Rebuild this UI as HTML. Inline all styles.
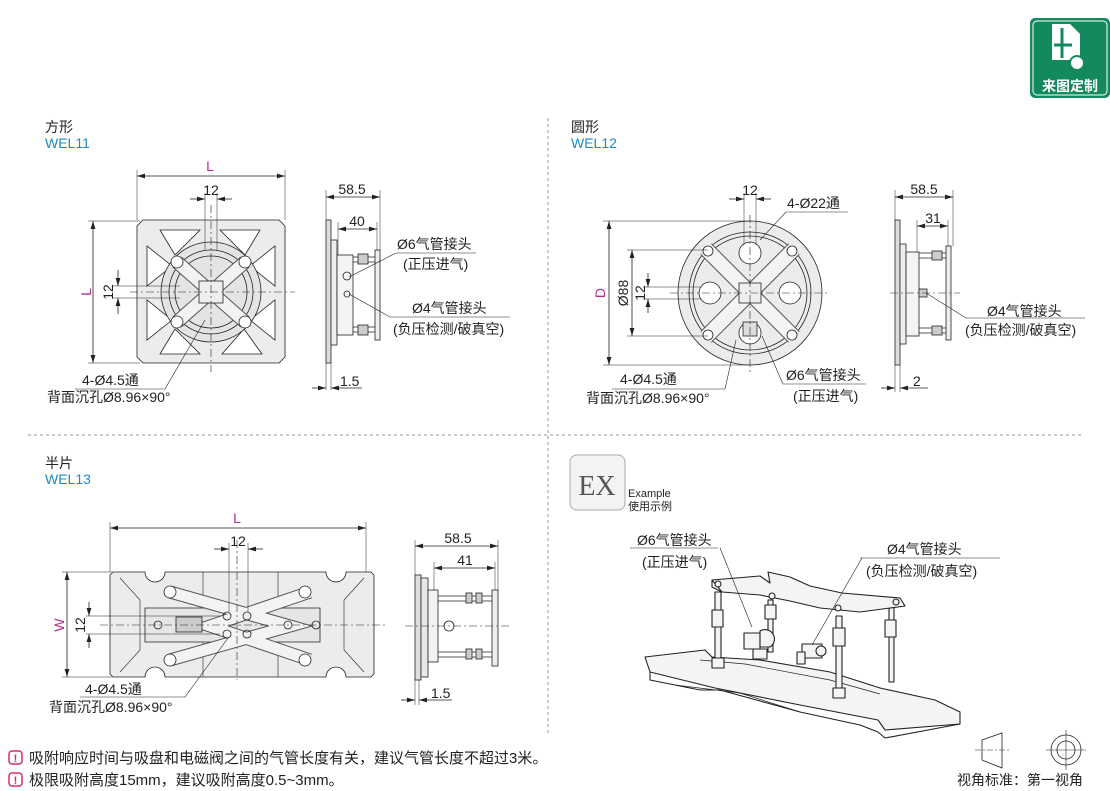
<!DOCTYPE html>
<html><head><meta charset="utf-8"><style>
html,body{margin:0;padding:0;background:#fff;}
svg{display:block;}
text{font-family:"Liberation Sans","Noto Sans CJK SC",sans-serif;fill:#222;}
</style></head><body>
<svg width="1110" height="791" viewBox="0 0 1110 791" xmlns="http://www.w3.org/2000/svg">
<defs>
<marker id="a" viewBox="0 0 10 6" refX="10" refY="3" markerWidth="10" markerHeight="6" orient="auto-start-reverse"><path d="M0,0L10,3L0,6z" fill="#222"/></marker>
</defs>
<g font-size="14">
<text x="45" y="132">方形</text><text x="45" y="148" style="fill:#1a8ac6">WEL11</text>
<text x="571" y="132">圆形</text><text x="571" y="148" style="fill:#1a8ac6">WEL12</text>
<text x="45" y="468">半片</text><text x="45" y="484" style="fill:#1a8ac6">WEL13</text>
</g>
<line x1="28" y1="435" x2="1082" y2="435" stroke="#999" stroke-dasharray="3,3"/>
<line x1="548" y1="118" x2="548" y2="735" stroke="#999" stroke-dasharray="3,3"/>

<!-- logo -->
<rect x="1030" y="18" width="80" height="80" rx="5" fill="#138a5e"/>
<rect x="1033" y="21" width="74" height="74" rx="4" fill="none" stroke="#fff" stroke-width="1"/>
<path d="M1052,24h18l10,10v26h-28z" fill="#fff"/>
<path d="M1062,28v30M1054,45h18" stroke="#138a5e" stroke-width="3"/>
<circle cx="1077" cy="63" r="7" fill="#fff" stroke="#138a5e" stroke-width="2"/>
<text x="1070" y="91" font-size="14" font-weight="bold" text-anchor="middle" style="fill:#fff">来图定制</text>

<g stroke="#222" stroke-width="0.8" fill="none">
<!-- ===== Square plate ===== -->
<path d="M143,220H279L285,226V357L279,363H143L137,357V226Z" fill="#ececec"/>
<g fill="#fff">
<path d="M160,230h40l-25,25z"/><path d="M220,230h40l-15,25z"/>
<path d="M147,246v40l25-20z"/><path d="M275,246v40l-25-20z"/>
<path d="M147,300v40l25-20z"/><path d="M275,300v40l-25-20z"/>
<path d="M160,354h40l-25-25z"/><path d="M222,354h40l-18-25z"/>
</g>
<circle cx="211" cy="292" r="50" fill="#e4e4e4"/>
<circle cx="211" cy="292" r="42"/><circle cx="211" cy="292" r="36"/>
<path d="M177,262L245,322M245,262L177,322" stroke-width="14" stroke="#555"/>
<path d="M177,262L245,322M245,262L177,322" stroke-width="12" stroke="#f3f3f3"/>
<circle cx="177" cy="262" r="6" fill="#fff"/><circle cx="245" cy="262" r="6" fill="#fff"/>
<circle cx="177" cy="322" r="6" fill="#fff"/><circle cx="245" cy="322" r="6" fill="#fff"/>
<rect x="199" y="281" width="24" height="22" fill="#eee"/>
<line x1="130" y1="292" x2="295" y2="292" stroke-dasharray="8,3,2,3" stroke-width="0.6"/>
<line x1="211" y1="205" x2="211" y2="372" stroke-dasharray="8,3,2,3" stroke-width="0.6"/>
<line x1="137" y1="170" x2="137" y2="220" stroke-width="0.5"/><line x1="285" y1="170" x2="285" y2="220" stroke-width="0.5"/>
<line x1="137" y1="176" x2="285" y2="176" marker-start="url(#a)" marker-end="url(#a)"/>
<line x1="205" y1="193" x2="205" y2="250" stroke-width="0.5"/><line x1="217" y1="193" x2="217" y2="250" stroke-width="0.5"/>
<line x1="190" y1="199" x2="205" y2="199" marker-end="url(#a)"/><line x1="232" y1="199" x2="217" y2="199" marker-end="url(#a)"/>
<line x1="88" y1="221" x2="140" y2="221" stroke-width="0.5"/><line x1="88" y1="363" x2="140" y2="363" stroke-width="0.5"/>
<line x1="93" y1="221" x2="93" y2="363" marker-start="url(#a)" marker-end="url(#a)"/>
<line x1="112" y1="286" x2="180" y2="286" stroke-width="0.5"/><line x1="112" y1="298" x2="180" y2="298" stroke-width="0.5"/>
<line x1="118" y1="270" x2="118" y2="286" marker-end="url(#a)"/><line x1="118" y1="314" x2="118" y2="298" marker-end="url(#a)"/>
<path d="M75,389H165L205,320" stroke-width="0.6"/>
<!-- side square -->
<rect x="326" y="220" width="5" height="143" fill="#ddd"/>
<rect x="331" y="240" width="6" height="105" fill="#eee"/>
<rect x="337" y="255" width="16" height="80" fill="#f4f4f4"/>
<line x1="353" y1="257" x2="376" y2="257"/><line x1="353" y1="262" x2="376" y2="262"/>
<line x1="353" y1="327" x2="376" y2="327"/><line x1="353" y1="332" x2="376" y2="332"/>
<rect x="358" y="254" width="10" height="10" fill="#ccc"/><rect x="358" y="325" width="10" height="10" fill="#ccc"/>
<rect x="375" y="250" width="5" height="90" fill="#eee"/>
<circle cx="347" cy="276" r="4"/><circle cx="347" cy="294" r="3"/>
<line x1="326" y1="190" x2="326" y2="220" stroke-width="0.5"/><line x1="380" y1="190" x2="380" y2="250" stroke-width="0.5"/>
<line x1="326" y1="197" x2="380" y2="197" marker-start="url(#a)" marker-end="url(#a)"/>
<line x1="338" y1="222" x2="338" y2="255" stroke-width="0.5"/><line x1="377" y1="222" x2="377" y2="250" stroke-width="0.5"/>
<line x1="338" y1="229" x2="377" y2="229" marker-start="url(#a)" marker-end="url(#a)"/>
<line x1="326" y1="363" x2="326" y2="390" stroke-width="0.5"/><line x1="331" y1="363" x2="331" y2="390" stroke-width="0.5"/>
<line x1="312" y1="388" x2="326" y2="388" marker-end="url(#a)"/><line x1="362" y1="388" x2="331" y2="388" marker-end="url(#a)"/>
<path d="M349,277L396,253H476" stroke-width="0.6"/>
<path d="M349,294L390,317H510" stroke-width="0.6"/>

<!-- ===== Round ===== -->
<circle cx="750" cy="293" r="72" fill="#ececec"/>
<circle cx="750" cy="293" r="61"/><circle cx="750" cy="293" r="57"/>
<circle cx="750" cy="253" r="11" fill="#fff"/><circle cx="710" cy="293" r="11" fill="#fff"/>
<circle cx="790" cy="293" r="11" fill="#fff"/><circle cx="750" cy="333" r="11" fill="#fff"/>
<path d="M706,249L794,337M794,249L706,337" stroke-width="16" stroke="#555"/>
<path d="M706,249L794,337M794,249L706,337" stroke-width="14" stroke="#f3f3f3"/>
<circle cx="708" cy="251" r="5" fill="#fff"/><circle cx="792" cy="251" r="5" fill="#fff"/>
<circle cx="708" cy="335" r="5" fill="#fff"/><circle cx="792" cy="335" r="5" fill="#fff"/>
<rect x="739" y="283" width="22" height="20" fill="#eee"/>
<rect x="743" y="322" width="14" height="14" fill="#ddd"/>
<line x1="670" y1="293" x2="830" y2="293" stroke-dasharray="8,3,2,3" stroke-width="0.6"/>
<line x1="750" y1="215" x2="750" y2="372" stroke-dasharray="8,3,2,3" stroke-width="0.6"/>
<line x1="603" y1="221" x2="750" y2="221" stroke-width="0.5"/><line x1="603" y1="365" x2="750" y2="365" stroke-width="0.5"/>
<line x1="609" y1="221" x2="609" y2="365" marker-start="url(#a)" marker-end="url(#a)"/>
<line x1="627" y1="250" x2="708" y2="250" stroke-width="0.5"/><line x1="627" y1="336" x2="708" y2="336" stroke-width="0.5"/>
<line x1="632" y1="250" x2="632" y2="336" marker-start="url(#a)" marker-end="url(#a)"/>
<line x1="643" y1="287" x2="700" y2="287" stroke-width="0.5"/><line x1="643" y1="299" x2="700" y2="299" stroke-width="0.5"/>
<line x1="648" y1="273" x2="648" y2="287" marker-end="url(#a)"/><line x1="648" y1="313" x2="648" y2="299" marker-end="url(#a)"/>
<line x1="744" y1="193" x2="744" y2="245" stroke-width="0.5"/><line x1="756" y1="193" x2="756" y2="245" stroke-width="0.5"/>
<line x1="729" y1="199" x2="744" y2="199" marker-end="url(#a)"/><line x1="771" y1="199" x2="756" y2="199" marker-end="url(#a)"/>
<path d="M848,212H786L760,240" stroke-width="0.6"/>
<path d="M612,389H725L736,340" stroke-width="0.6"/>
<path d="M866,384H783L762,336" stroke-width="0.6"/>
<!-- side round -->
<rect x="895" y="220" width="5" height="145" fill="#ddd"/>
<rect x="900" y="244" width="6" height="100" fill="#eee"/>
<rect x="906" y="252" width="13" height="84" fill="#f4f4f4"/>
<line x1="919" y1="253" x2="948" y2="253"/><line x1="919" y1="258" x2="948" y2="258"/>
<line x1="919" y1="328" x2="948" y2="328"/><line x1="919" y1="333" x2="948" y2="333"/>
<rect x="932" y="251" width="10" height="9" fill="#ccc"/><rect x="932" y="326" width="10" height="9" fill="#ccc"/>
<rect x="946" y="246" width="5" height="94" fill="#eee"/>
<rect x="919" y="289" width="8" height="8" fill="#ccc"/>
<line x1="890" y1="293" x2="960" y2="293" stroke-dasharray="8,3,2,3" stroke-width="0.6"/>
<line x1="895" y1="190" x2="895" y2="220" stroke-width="0.5"/><line x1="953" y1="190" x2="953" y2="246" stroke-width="0.5"/>
<line x1="895" y1="197" x2="953" y2="197" marker-start="url(#a)" marker-end="url(#a)"/>
<line x1="917" y1="220" x2="917" y2="252" stroke-width="0.5"/><line x1="948" y1="220" x2="948" y2="246" stroke-width="0.5"/>
<line x1="917" y1="226" x2="948" y2="226" marker-start="url(#a)" marker-end="url(#a)"/>
<line x1="895" y1="365" x2="895" y2="392" stroke-width="0.5"/><line x1="900" y1="365" x2="900" y2="392" stroke-width="0.5"/>
<line x1="881" y1="388" x2="895" y2="388" marker-end="url(#a)"/><line x1="928" y1="388" x2="900" y2="388" marker-end="url(#a)"/>
<path d="M926,293L966,318H1085" stroke-width="0.6"/>

<!-- ===== Half plate ===== -->
<path d="M113,572H145A10,10 0 0 0 165,572H326A10,10 0 0 0 346,572H371L374,575V674L371,677H346A10,10 0 0 0 326,677H165A10,10 0 0 0 145,677H113L110,674V575Z" fill="#ececec"/>
<path d="M120,578L140,600V650L120,672M364,578L344,600V650L364,672" stroke-width="0.6"/>
<path d="M203,572V677M278,572V677" stroke-width="0.6"/>
<path d="M145,608H320V642H145Z" fill="#e6e6e6"/>
<path d="M170,592L290,626L170,660M310,592L210,626L310,660" stroke-width="13" stroke="#555"/>
<path d="M170,592L290,626L170,660M310,592L210,626L310,660" stroke-width="11" stroke="#f3f3f3"/>
<circle cx="170" cy="592" r="6" fill="#fff"/><circle cx="170" cy="660" r="6" fill="#fff"/>
<circle cx="305" cy="592" r="6" fill="#fff"/><circle cx="305" cy="660" r="6" fill="#fff"/>
<circle cx="227" cy="616" r="4"/><circle cx="247" cy="616" r="4"/><circle cx="227" cy="634" r="4"/><circle cx="247" cy="634" r="4"/>
<circle cx="158" cy="625" r="4"/><circle cx="288" cy="625" r="4"/><circle cx="316" cy="625" r="4"/>
<rect x="176" y="617" width="26" height="15" fill="#ccc"/>
<line x1="100" y1="625" x2="385" y2="625" stroke-dasharray="8,3,2,3" stroke-width="0.6"/>
<line x1="237" y1="540" x2="237" y2="680" stroke-dasharray="8,3,2,3" stroke-width="0.6"/>
<line x1="110" y1="522" x2="110" y2="572" stroke-width="0.5"/><line x1="366" y1="522" x2="366" y2="572" stroke-width="0.5"/>
<line x1="110" y1="528" x2="366" y2="528" marker-start="url(#a)" marker-end="url(#a)"/>
<line x1="229" y1="543" x2="229" y2="612" stroke-width="0.5"/><line x1="248" y1="543" x2="248" y2="612" stroke-width="0.5"/>
<line x1="214" y1="549" x2="229" y2="549" marker-end="url(#a)"/><line x1="263" y1="549" x2="248" y2="549" marker-end="url(#a)"/>
<line x1="62" y1="572" x2="112" y2="572" stroke-width="0.5"/><line x1="62" y1="677" x2="112" y2="677" stroke-width="0.5"/>
<line x1="67" y1="572" x2="67" y2="677" marker-start="url(#a)" marker-end="url(#a)"/>
<line x1="86" y1="616" x2="220" y2="616" stroke-width="0.5"/><line x1="86" y1="634" x2="220" y2="634" stroke-width="0.5"/>
<line x1="89" y1="602" x2="89" y2="616" marker-end="url(#a)"/><line x1="89" y1="648" x2="89" y2="634" marker-end="url(#a)"/>
<path d="M80,697H185L228,638" stroke-width="0.6"/>
<!-- side half -->
<rect x="415" y="575" width="6" height="105" fill="#ddd"/>
<rect x="421" y="578" width="7" height="99" fill="#e8e8e8"/>
<rect x="428" y="590" width="10" height="72" fill="#f2f2f2"/>
<line x1="438" y1="596" x2="495" y2="596"/><line x1="438" y1="601" x2="495" y2="601"/>
<line x1="438" y1="652" x2="495" y2="652"/><line x1="438" y1="657" x2="495" y2="657"/>
<rect x="466" y="593" width="6" height="10" fill="#ccc"/><rect x="476" y="593" width="6" height="10" fill="#ccc"/>
<rect x="466" y="649" width="6" height="10" fill="#ccc"/><rect x="476" y="649" width="6" height="10" fill="#ccc"/>
<rect x="492" y="590" width="6" height="76" fill="#eee"/>
<circle cx="449" cy="626" r="5"/>
<line x1="405" y1="626" x2="510" y2="626" stroke-dasharray="8,3,2,3" stroke-width="0.6"/>
<line x1="415" y1="540" x2="415" y2="575" stroke-width="0.5"/><line x1="498" y1="540" x2="498" y2="590" stroke-width="0.5"/>
<line x1="415" y1="546" x2="498" y2="546" marker-start="url(#a)" marker-end="url(#a)"/>
<line x1="434" y1="562" x2="434" y2="590" stroke-width="0.5"/><line x1="495" y1="562" x2="495" y2="590" stroke-width="0.5"/>
<line x1="434" y1="568" x2="495" y2="568" marker-start="url(#a)" marker-end="url(#a)"/>
<line x1="415" y1="680" x2="415" y2="705" stroke-width="0.5"/><line x1="419" y1="680" x2="419" y2="705" stroke-width="0.5"/>
<line x1="401" y1="700" x2="415" y2="700" marker-end="url(#a)"/><line x1="452" y1="700" x2="419" y2="700" marker-end="url(#a)"/>
</g>

<!-- ===== 3D example ===== -->
<g stroke="#222" stroke-width="1.1" fill="#f4f4f4" stroke-linejoin="round">
<!-- bottom plate -->
<path d="M645,657L705,650L712,657L760,660L830,672L880,688L935,700L960,712L960,724L885,730L878,720L800,705L715,688L650,672Z"/>
<path d="M650,672L650,680L700,690L720,690L800,712L860,725L878,732L885,738L960,724" fill="none"/>
<path d="M675,685L740,693L800,712" fill="none" stroke-width="0.7"/>
<path d="M700,660L745,664L830,680L880,694" fill="none" stroke-width="0.7"/>
<!-- rods -->
<path d="M715,592h6v72h-6zM768,600h5v52h-5zM836,616h6v75h-6zM889,605h5v77h-5z"/>
<rect x="712" y="610" width="11" height="17"/><rect x="765" y="605" width="11" height="14"/>
<rect x="833" y="628" width="12" height="18"/><rect x="885" y="620" width="11" height="17"/>
<rect x="712" y="658" width="12" height="10"/><rect x="833" y="688" width="12" height="10"/>
<!-- top plate -->
<path d="M712,580L760,576L770,583L768,572L790,577L810,586L842,593L900,598L905,606L860,612L820,608L790,601L760,595L722,592Z"/>
<path d="M712,580L712,587L722,592" fill="none"/>
<circle cx="718" cy="584" r="3"/><circle cx="772" cy="596" r="3"/><circle cx="838" cy="608" r="3"/><circle cx="896" cy="602" r="3"/>
<!-- fittings -->
<path d="M744,633h16v16h-16z"/><path d="M760,631a9,9 0 0 1 10,16l-10,0z"/><rect x="753" y="649" width="14" height="10"/>
<path d="M802,644h20v14h-20z"/><circle cx="821" cy="651" r="5"/><rect x="797" y="652" width="8" height="12"/>
</g>
<g stroke="#222" stroke-width="0.6" fill="none">
<path d="M630,548H718M720,548L752,627"/>
<path d="M860,558H1000M862,558L812,645"/>
<!-- view symbols -->
<path d="M982,740L1002,733V768L982,760Z" stroke-width="0.8"/>
<line x1="975" y1="750" x2="1010" y2="750" stroke-dasharray="6,2,2,2"/>
<circle cx="1066" cy="750" r="15" stroke-width="0.8"/><circle cx="1066" cy="750" r="9" stroke-width="0.8"/>
<line x1="1046" y1="750" x2="1086" y2="750"/><line x1="1066" y1="730" x2="1066" y2="770"/>
</g>

<!-- EX icon -->
<rect x="570" y="455" width="55" height="55" rx="7" fill="#f3f3f3" stroke="#aaa"/>
<text x="597" y="495" font-size="28" text-anchor="middle" style="fill:#555;font-family:'Liberation Serif',serif">EX</text>
<text x="628" y="497" font-size="11">Example</text>
<text x="628" y="510" font-size="11">使用示例</text>

<g font-size="14">
<text x="210" y="171" text-anchor="middle" style="fill:#b0308e">L</text>
<text x="211" y="195" text-anchor="middle">12</text>
<text transform="translate(91,292) rotate(-90)" text-anchor="middle" style="fill:#b0308e">L</text>
<text transform="translate(113,292) rotate(-90)" text-anchor="middle">12</text>
<text x="82" y="385">4-Ø4.5通</text>
<text x="47" y="402">背面沉孔Ø8.96×90°</text>
<text x="352" y="194" text-anchor="middle">58.5</text>
<text x="357" y="226" text-anchor="middle">40</text>
<text x="397" y="249">Ø6气管接头</text>
<text x="403" y="269">(正压进气)</text>
<text x="412" y="313">Ø4气管接头</text>
<text x="393" y="334">(负压检测/破真空)</text>
<text x="340" y="386">1.5</text>

<text x="750" y="195" text-anchor="middle">12</text>
<text x="787" y="208">4-Ø22通</text>
<text transform="translate(605,293) rotate(-90)" text-anchor="middle" style="fill:#b0308e">D</text>
<text transform="translate(628,293) rotate(-90)" text-anchor="middle">Ø88</text>
<text transform="translate(645,293) rotate(-90)" text-anchor="middle">12</text>
<text x="620" y="384">4-Ø4.5通</text>
<text x="586" y="403">背面沉孔Ø8.96×90°</text>
<text x="786" y="380">Ø6气管接头</text>
<text x="793" y="401">(正压进气)</text>
<text x="924" y="194" text-anchor="middle">58.5</text>
<text x="933" y="223" text-anchor="middle">31</text>
<text x="987" y="316">Ø4气管接头</text>
<text x="965" y="335">(负压检测/破真空)</text>
<text x="913" y="386">2</text>

<text x="237" y="523" text-anchor="middle" style="fill:#b0308e">L</text>
<text x="238" y="546" text-anchor="middle">12</text>
<text transform="translate(64,625) rotate(-90)" text-anchor="middle" style="fill:#b0308e">W</text>
<text transform="translate(85,625) rotate(-90)" text-anchor="middle">12</text>
<text x="85" y="694">4-Ø4.5通</text>
<text x="49" y="712">背面沉孔Ø8.96×90°</text>
<text x="458" y="543" text-anchor="middle">58.5</text>
<text x="465" y="565" text-anchor="middle">41</text>
<text x="431" y="698">1.5</text>

<text x="637" y="545">Ø6气管接头</text>
<text x="642" y="567">(正压进气)</text>
<text x="887" y="554">Ø4气管接头</text>
<text x="866" y="576">(负压检测/破真空)</text>

<text x="957" y="785">视角标准：第一视角</text>
</g>
<g font-size="15">
<text x="29" y="763">吸附响应时间与吸盘和电磁阀之间的气管长度有关，建议气管长度不超过3米。</text>
<text x="29" y="785">极限吸附高度15mm，建议吸附高度0.5~3mm。</text>
</g>
<rect x="9" y="751" width="13" height="13" rx="3" fill="none" stroke="#d8305a" stroke-width="1.5"/>
<text x="15.5" y="762" font-size="11" font-weight="bold" text-anchor="middle" style="fill:#d8305a">!</text>
<rect x="9" y="773" width="13" height="13" rx="3" fill="none" stroke="#d8305a" stroke-width="1.5"/>
<text x="15.5" y="784" font-size="11" font-weight="bold" text-anchor="middle" style="fill:#d8305a">!</text>
</svg>
</body></html>
